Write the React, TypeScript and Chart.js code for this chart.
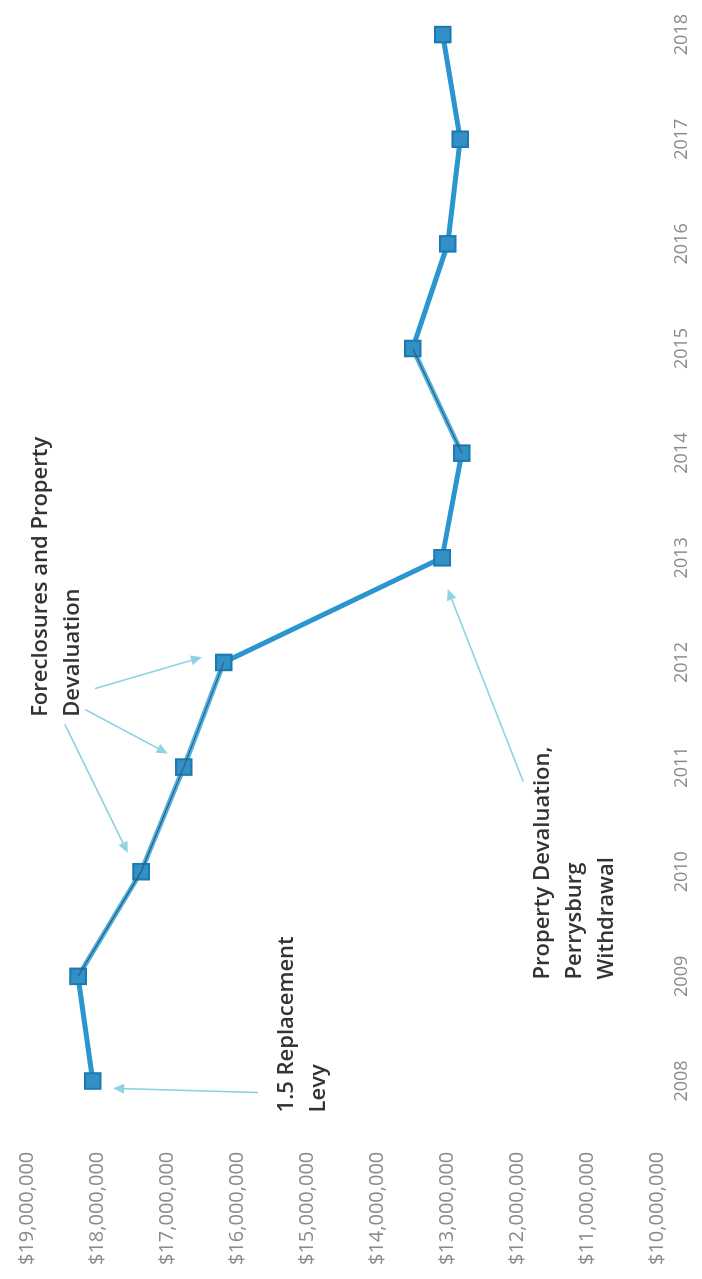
import React, { useEffect, useRef } from 'react';
import { Chart, registerables } from 'chart.js';

Chart.register(...registerables);

// ---- data ----
const years = ['2008', '2009', '2010', '2011', '2012', '2013', '2014', '2015', '2016', '2017', '2018'];
const revenue = [18060000, 18270000, 17370000, 16760000, 16190000, 13070000, 12790000, 13490000, 12990000, 12810000, 13060000];
const axisMin = 10000000;
const axisMax = 19000000;
const axisStep = 1000000;
// segments (by start index) that show the light line with a dark core in the source
const coredSegments = [1, 2, 3, 6];

// annotation texts and anchors in data units: [category index, value]
const noteLines = [
  ['Foreclosures and Property', 'Devaluation'],
  ['1.5 Replacement', 'Levy'],
  ['Property Devaluation,', 'Perrysburg', 'Withdrawal'],
];
const noteAnchors = [
  [3.48, 18810000],
  [-0.30, 15290000],
  [0.97, 11630000],
];
const arrowFrom = [
  [3.75, 18030000],
  [3.55, 18170000],
  [3.41, 18460000],
  [-0.11, 15700000],
  [2.86, 11910000],
];
const arrowTo = [
  [4.05, 16500000],
  [3.13, 16990000],
  [2.18, 17560000],
  [-0.07, 17770000],
  [4.70, 12990000],
];

const W = 1279;
const H = 702;

const notesPlugin = {
  id: 'notes',
  afterDatasetsDraw(chart: any) {
    const { ctx, scales } = chart;
    const xs = scales.x;
    const ys = scales.y;
    ctx.save();
    ctx.strokeStyle = '#8fd2e2';
    ctx.fillStyle = '#8fd2e2';
    ctx.lineWidth = 1.6;
    for (let i = 0; i < arrowFrom.length; i++) {
      const x1 = xs.getPixelForValue(arrowFrom[i][0]);
      const y1 = ys.getPixelForValue(arrowFrom[i][1]);
      const x2 = xs.getPixelForValue(arrowTo[i][0]);
      const y2 = ys.getPixelForValue(arrowTo[i][1]);
      const ang = Math.atan2(y2 - y1, x2 - x1);
      const hl = 11;
      const hw = 5;
      const bx = x2 - hl * Math.cos(ang);
      const by = y2 - hl * Math.sin(ang);
      ctx.beginPath();
      ctx.moveTo(x1, y1);
      ctx.lineTo(bx, by);
      ctx.stroke();
      ctx.beginPath();
      ctx.moveTo(x2, y2);
      ctx.lineTo(bx + hw * Math.sin(ang), by - hw * Math.cos(ang));
      ctx.lineTo(bx - hw * Math.sin(ang), by + hw * Math.cos(ang));
      ctx.closePath();
      ctx.fill();
    }
    ctx.fillStyle = '#333333';
    ctx.font = '600 22px "Open Sans"';
    ctx.textAlign = 'left';
    ctx.textBaseline = 'middle';
    for (let i = 0; i < noteLines.length; i++) {
      const x = xs.getPixelForValue(noteAnchors[i][0]);
      const y = ys.getPixelForValue(noteAnchors[i][1]);
      noteLines[i].forEach((t, j) => ctx.fillText(t, x, y + j * 32));
    }
    ctx.restore();
  },
};

export default function App() {
  const ref = useRef<HTMLCanvasElement>(null);
  useEffect(() => {
    if (!ref.current) return;
    const cored = (c: any) => coredSegments.includes(c.p0DataIndex);
    const chart = new Chart(ref.current, {
      type: 'line',
      data: {
        labels: years,
        datasets: [
          {
            data: revenue,
            borderColor: '#2b95cf',
            borderWidth: 5,
            segment: { borderColor: (c: any) => (cored(c) ? '#4fb0df' : undefined) },
            pointStyle: 'rect',
            pointRadius: 11,
            pointBackgroundColor: '#3190c6',
            pointBorderColor: '#1c78b0',
            pointBorderWidth: 2,
            tension: 0,
            order: 2,
          },
          {
            data: revenue,
            borderColor: 'rgba(0,0,0,0)',
            borderWidth: 1.2,
            segment: { borderColor: (c: any) => (cored(c) ? '#2d5f7c' : 'rgba(0,0,0,0)') },
            pointRadius: 0,
            tension: 0,
            order: 1,
          },
        ],
      },
      options: {
        animation: false,
        responsive: false,
        maintainAspectRatio: false,
        devicePixelRatio: 1,
        layout: { padding: { left: 14, top: 27, right: 30, bottom: 0 } },
        plugins: { legend: { display: false }, tooltip: { enabled: false } },
        scales: {
          x: {
            type: 'category',
            offset: false,
            grid: { display: false, drawTicks: false },
            border: { display: false },
            ticks: {
              color: '#8a8a8a',
              font: { family: 'Open Sans', size: 18 },
              padding: 14,
              maxRotation: 0,
              autoSkip: false,
            },
            afterFit: (s: any) => {
              s.height = 45;
            },
          },
          y: {
            min: axisMin,
            max: axisMax,
            grid: { display: false, drawTicks: false },
            border: { display: false },
            ticks: {
              stepSize: axisStep,
              color: '#8a8a8a',
              font: { family: 'Open Sans', size: 20 },
              padding: 0,
              crossAlign: 'far',
              callback: (v: any) => '$' + Number(v).toLocaleString('en-US'),
            },
            afterFit: (s: any) => {
              s.width = 184;
            },
          },
        },
      },
      plugins: [notesPlugin],
    });
    return () => chart.destroy();
  }, []);

  return (
    <div style={{ position: 'absolute', left: 0, top: 0, width: 702, height: 1279, overflow: 'hidden', background: '#fff' }}>
      <div
        style={{
          position: 'absolute',
          left: 0,
          top: 0,
          width: W,
          height: H,
          transformOrigin: '0 0',
          transform: `translate(0px, ${W}px) rotate(-90deg)`,
        }}
      >
        <canvas ref={ref} width={W} height={H} style={{ width: W, height: H, display: 'block' }} />
      </div>
    </div>
  );
}
